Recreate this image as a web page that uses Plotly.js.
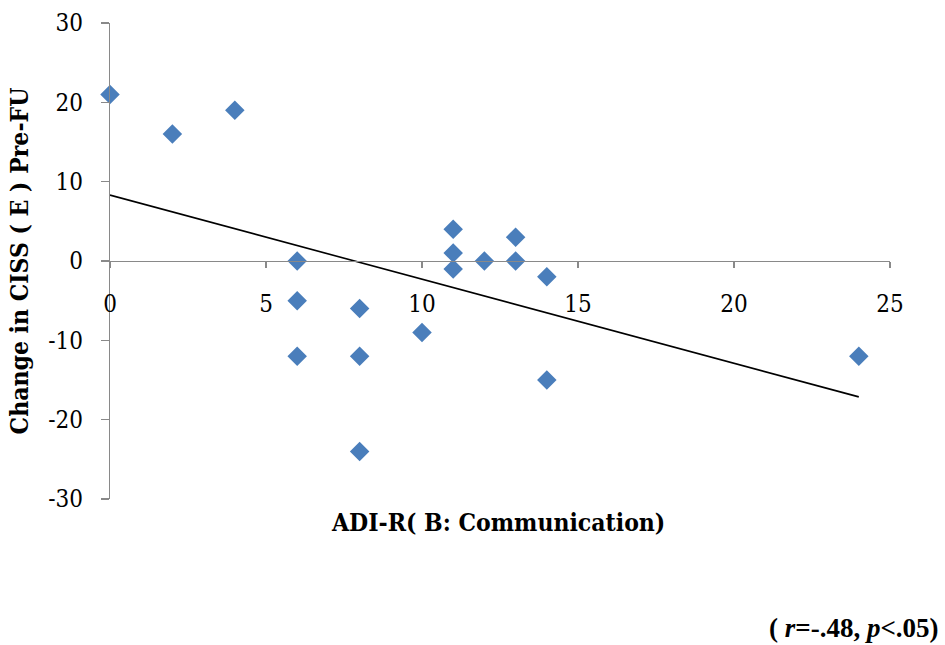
<!DOCTYPE html>
<html>
<head>
<meta charset="utf-8">
<script src="https://cdn.plot.ly/plotly-3.0.1.min.js"></script>
<style>html,body{margin:0;padding:0;background:#fff;}#chart{width:945px;height:645px;}</style>
</head>
<body>
<div id="chart"></div>
<script>
// ADI-R (B: Communication) scores
const adiB = [0, 2, 4, 6, 6, 6, 8, 8, 8, 10, 11, 11, 11, 12, 13, 13, 14, 14, 24];
// Change in CISS (E) Pre-FU
const cissChange = [21, 16, 19, 0, -5, -12, -6, -12, -24, -9, 4, 1, -1, 0, 3, 0, -2, -15, -12];
const xTicks = [0, 5, 10, 15, 20, 25];
const yTicks = [-30, -20, -10, 0, 10, 20, 30];

// least-squares trend line computed from the data
const n = adiB.length;
const mx = adiB.reduce((a, b) => a + b, 0) / n;
const my = cissChange.reduce((a, b) => a + b, 0) / n;
let sxy = 0, sxx = 0;
for (let i = 0; i < n; i++) { sxy += (adiB[i] - mx) * (cissChange[i] - my); sxx += (adiB[i] - mx) ** 2; }
const slope = sxy / sxx, intercept = my - slope * mx;
const xmin = Math.min(...adiB), xmax = Math.max(...adiB);
const trendX = [xmin, xmax];
const trendY = trendX.map(x => intercept + slope * x);

const serif = 'DejaVu Serif Condensed, DejaVu Serif, Liberation Serif, serif';
const axisColor = '#898989';

const data = [
  {
    x: trendX, y: trendY, mode: 'lines', type: 'scatter',
    line: {color: '#000000', width: 1.6}, hoverinfo: 'skip', showlegend: false, cliponaxis: false
  },
  {
    x: adiB, y: cissChange, mode: 'markers', type: 'scatter',
    marker: {symbol: 'diamond', size: 15, color: '#4a7ebb', line: {width: 0}},
    showlegend: false, cliponaxis: false
  }
];

const layout = {
  width: 945, height: 645,
  margin: {l: 110, r: 55, t: 23, b: 146},
  paper_bgcolor: '#ffffff', plot_bgcolor: '#ffffff',
  font: {family: serif, color: '#000000'},
  xaxis: {
    range: [0, 25], tickvals: xTicks, ticktext: xTicks.map(String),
    anchor: 'free', position: 0.5,
    showline: true, linecolor: axisColor, linewidth: 1.3,
    ticks: 'outside', ticklen: 6, tickcolor: axisColor, tickwidth: 1.3,
    ticklabelstandoff: 15,
    showgrid: false, zeroline: false,
    tickfont: {family: serif, size: 24, color: '#000000'}
  },
  yaxis: {
    range: [-30, 30], tickvals: yTicks, ticktext: yTicks.map(String),
    showline: true, linecolor: axisColor, linewidth: 1.3,
    ticks: 'outside', ticklen: 8, tickcolor: axisColor, tickwidth: 1.3,
    ticklabelstandoff: 13,
    showgrid: false, zeroline: false,
    tickfont: {family: serif, size: 24, color: '#000000'},
    title: {text: '<b>Change in CISS ( E ) Pre-FU</b>', font: {family: serif, size: 24.5, color: '#000000'}, standoff: 12}
  },
  annotations: [
    {
      text: '<b>ADI-R( B: Communication)</b>', xref: 'paper', yref: 'paper',
      x: 0.498, y: -0.05, xanchor: 'center', yanchor: 'middle', showarrow: false,
      font: {family: serif, size: 24.5, color: '#000000'}
    },
    {
      text: '<b>( <i>r</i>=-.48, <i>p</i>&lt;.05)</b>', xref: 'paper', yref: 'paper',
      x: 1.065, y: -0.27, xanchor: 'right', yanchor: 'middle', showarrow: false,
      font: {family: 'Liberation Serif, Times New Roman, serif', size: 27, color: '#000000'}
    }
  ]
};

Plotly.newPlot('chart', data, layout, {displayModeBar: false, staticPlot: true});
</script>
</body>
</html>
